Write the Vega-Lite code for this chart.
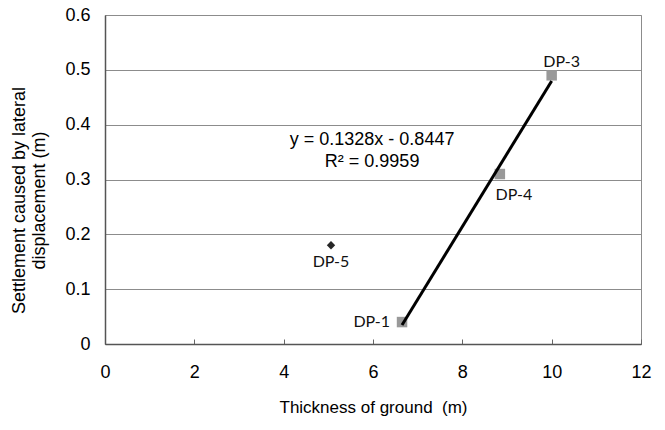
{
  "$schema": "https://vega.github.io/schema/vega-lite/v6.json",
  "width": 536,
  "height": 329,
  "autosize": {"type": "none"},
  "padding": {"left": 105, "top": 15, "right": 24, "bottom": 86},
  "background": "white",
  "config": {
    "view": {"stroke": "#8c8c8c", "strokeWidth": 1},
    "font": "Liberation Sans"
  },
  "datasets": {
    "pts": [
      {"name": "DP-1", "x": 6.65, "y": 0.04, "group": "trend"},
      {"name": "DP-4", "x": 8.84, "y": 0.31, "group": "trend"},
      {"name": "DP-3", "x": 10.0, "y": 0.49, "group": "trend"},
      {"name": "DP-5", "x": 5.06, "y": 0.18, "group": "other"}
    ],
    "eq": [
      {"x": 5.98, "y": 0.372, "label": "y = 0.1328x - 0.8447"},
      {"x": 5.98, "y": 0.332, "label": "R² = 0.9959"}
    ]
  },
  "encoding": {
    "x": {
      "field": "x", "type": "quantitative",
      "scale": {"domain": [0, 12], "nice": false},
      "axis": {
        "values": [0, 2, 4, 6, 8, 10, 12],
        "grid": false,
        "title": "Thickness of ground\u00a0 (m)",
        "titleFont": "Liberation Sans",
        "titleFontSize": 17,
        "titleFontWeight": "normal",
        "titleColor": "#000",
        "titlePadding": 18,
        "labelFont": "Liberation Sans",
        "labelFontSize": 18,
        "labelColor": "#000",
        "labelPadding": 24,
        "labelFlush": false,
        "domainColor": "#555",
        "domainWidth": 1.5,
        "tickColor": "#666",
        "tickSize": -5
      }
    },
    "y": {
      "field": "y", "type": "quantitative",
      "scale": {"domain": [0, 0.6], "nice": false},
      "axis": {
        "values": [0, 0.1, 0.2, 0.3, 0.4, 0.5, 0.6],
        "format": "~g",
        "grid": true,
        "gridColor": "#8c8c8c",
        "gridWidth": 1,
        "ticks": false,
        "title": ["Settlement caused by lateral", "displacement (m)"],
        "titleFont": "Liberation Sans",
        "titleFontSize": 18,
        "titleFontWeight": "normal",
        "titleColor": "#000",
        "titlePadding": 16,
        "titleY": 185,
        "labelFont": "Liberation Sans",
        "labelFontSize": 18,
        "labelColor": "#000",
        "labelPadding": 15,
        "labelFlush": false,
        "domainColor": "#555",
        "domainWidth": 1.5
      }
    }
  },
  "layer": [
    {
      "data": {"name": "pts"},
      "transform": [{"filter": "datum.group === 'trend'"}],
      "mark": {"type": "square", "filled": true, "color": "#999999", "size": 110, "opacity": 1}
    },
    {
      "data": {"name": "pts"},
      "transform": [{"filter": "datum.group === 'other'"}],
      "mark": {"type": "point", "shape": "diamond", "filled": true, "color": "#262626", "size": 70, "opacity": 1}
    },
    {
      "data": {"name": "pts"},
      "transform": [
        {"filter": "datum.group === 'trend'"},
        {"regression": "y", "on": "x", "extent": [6.65, 10]}
      ],
      "mark": {"type": "line", "color": "#000", "strokeWidth": 3}
    },
    {
      "data": {"name": "pts"},
      "transform": [{"filter": "datum.name === 'DP-3'"}],
      "mark": {"type": "text", "font": "Lato", "fontSize": 16, "color": "#111", "dx": 10, "dy": -13},
      "encoding": {"text": {"field": "name"}}
    },
    {
      "data": {"name": "pts"},
      "transform": [{"filter": "datum.name === 'DP-4'"}],
      "mark": {"type": "text", "font": "Lato", "fontSize": 16, "color": "#111", "dx": 14, "dy": 21},
      "encoding": {"text": {"field": "name"}}
    },
    {
      "data": {"name": "pts"},
      "transform": [{"filter": "datum.name === 'DP-5'"}],
      "mark": {"type": "text", "font": "Lato", "fontSize": 16, "color": "#111", "dx": 0, "dy": 17},
      "encoding": {"text": {"field": "name"}}
    },
    {
      "data": {"name": "pts"},
      "transform": [{"filter": "datum.name === 'DP-1'"}],
      "mark": {"type": "text", "font": "Lato", "fontSize": 16, "color": "#111", "align": "right", "dx": -12, "dy": 0},
      "encoding": {"text": {"field": "name"}}
    },
    {
      "data": {"name": "eq"},
      "mark": {"type": "text", "font": "Liberation Sans", "fontSize": 18, "color": "#000"},
      "encoding": {"text": {"field": "label"}}
    }
  ]
}
